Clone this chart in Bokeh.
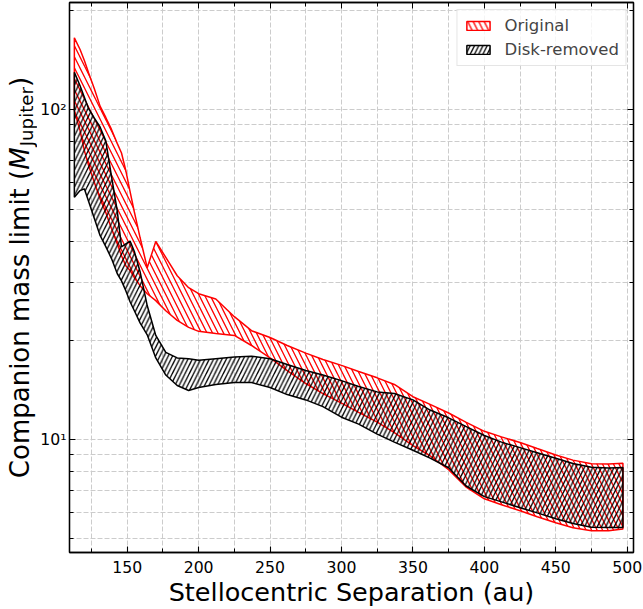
from bokeh.plotting import figure
from bokeh.layouts import row
from bokeh.models import (LogAxis, LinearAxis, FixedTicker, Range1d, Label, Legend, LegendItem,
                          CustomJSTickFormatter)
from bokeh.embed import file_html
from bokeh.resources import INLINE

# Stellocentric separation (au)
sep = [113, 117, 120, 123, 127, 131, 135, 139, 143, 146,
       149, 152, 155, 159, 164, 170, 177, 185, 193, 200,
       212, 225, 237, 250, 262, 275, 287, 300, 312, 325,
       337, 350, 362, 375, 387, 400, 412, 425, 437, 450,
       462, 475, 487, 497]

# Original: upper / lower companion mass limit (M_Jupiter)
orig_upper = [165.3, 152.3, 141.1, 129.3, 115.8, 102.6, 94.8, 87.2, 79.1, 74.0,
              65.5, 56.5, 49.0, 41.0, 33.2, 39.9, 35.7, 31.4, 28.9, 27.7,
              26.7, 23.6, 21.4, 20.4, 19.3, 18.3, 17.5, 16.8, 16.1, 15.4,
              14.7, 13.5, 12.8, 12.05, 11.3, 10.6, 10.2, 9.8, 9.4, 8.99,
              8.67, 8.46, 8.44, 8.48]
orig_lower = [99.5, 86.5, 75.2, 67.8, 60.2, 53.8, 48.8, 43.7, 39.3, 36.1,
              33.7, 32.6, 31.0, 29.3, 27.7, 26.4, 24.6, 23.0, 21.9, 21.3,
              21.0, 20.7, 19.3, 17.7, 16.2, 14.8, 13.8, 12.9, 12.1, 11.3,
              10.5, 9.6, 8.94, 8.11, 7.20, 6.62, 6.35, 6.09, 5.84, 5.60,
              5.41, 5.30, 5.30, 5.36]

# Disk-removed: upper / lower
disk_upper = [130.0, 118.3, 109.2, 100.8, 94.4, 88.7, 80.5, 62.8, 49.5, 38.4,
              39.2, 40.0, 37.2, 32.3, 25.5, 20.7, 18.4, 17.7, 17.6, 17.4,
              17.6, 17.8, 17.9, 17.6, 16.9, 16.2, 15.7, 15.1, 14.5, 13.96,
              13.8, 13.2, 12.3, 11.65, 10.97, 10.3, 9.83, 9.46, 9.13, 8.78,
              8.47, 8.25, 8.21, 8.24]
disk_lower = [54.3, 56.9, 57.6, 52.7, 46.8, 41.6, 38.5, 35.4, 31.9, 30.3,
              28.3, 26.2, 24.6, 22.6, 20.8, 17.7, 15.7, 14.6, 14.1, 14.4,
              14.7, 14.9, 14.9, 14.4, 13.7, 13.2, 12.6, 11.7, 11.15, 10.4,
              9.83, 9.29, 8.79, 8.22, 7.25, 6.72, 6.48, 6.22, 6.00, 5.76,
              5.57, 5.43, 5.42, 5.42]

x_major = [150, 200, 250, 300, 350, 400, 450, 500]
x_minor = [125, 175, 225, 275, 325, 375, 425, 475]
y_major = [10, 100]
y_minor = [5, 6, 7, 8, 9, 20, 30, 40, 50, 60, 70, 80, 90, 200]
y_major_labels = {10: "10¹", 100: "10²"}

FONT = "DejaVu Sans"
X0, X1 = 109.6, 504.4
Y0, Y1 = 4.55, 211.5
H = 609
LW = 37  # width of the strip holding the y-axis title
FRAME_TOP, FRAME_BOTTOM = 2, 552

p = figure(width=643 - LW, height=H,
           x_range=Range1d(X0, X1), y_range=Range1d(Y0, Y1),
           y_axis_type="log", output_backend="svg", toolbar_location=None,
           min_border_left=30, min_border_right=10, min_border_top=FRAME_TOP,
           min_border_bottom=H - FRAME_BOTTOM)
p.background_fill_color = "white"
p.border_fill_color = "white"
p.outline_line_color = "black"
p.outline_line_width = 1.3

# bands
orig = p.patch(sep + sep[::-1], orig_upper + orig_lower[::-1],
               fill_color="white", fill_alpha=0, line_color="red", line_width=1.5,
               hatch_pattern="\\", hatch_color="red", hatch_scale=11, hatch_weight=1.3,
               hatch_alpha=1.0)
disk = p.patch(sep + sep[::-1], disk_upper + disk_lower[::-1],
               fill_color="white", fill_alpha=0, line_color="black", line_width=1.5,
               hatch_pattern="/", hatch_color="black", hatch_scale=8.5, hatch_weight=1.3,
               hatch_alpha=1.0)

xt = FixedTicker(ticks=x_major, minor_ticks=x_minor)
yt = FixedTicker(ticks=y_major, minor_ticks=y_minor)

for ax in [p.xaxis[0], p.yaxis[0]]:
    ax.major_tick_out = 0
    ax.minor_tick_out = 0
    ax.major_tick_in = 6
    ax.minor_tick_in = 4
    ax.axis_line_width = 1.3
    ax.major_tick_line_width = 1.1
    ax.minor_tick_line_width = 1.0
    ax.major_label_text_font = FONT
    ax.major_label_text_font_size = "15.7px"
    ax.major_label_text_color = "black"
p.xaxis[0].ticker = xt
p.yaxis[0].ticker = yt
p.xaxis[0].major_label_standoff = 8
p.yaxis[0].major_label_standoff = 3
p.yaxis[0].major_label_overrides = y_major_labels

p.xaxis[0].axis_label = "Stellocentric Separation (au)"
p.xaxis[0].axis_label_text_font = FONT
p.xaxis[0].axis_label_text_font_size = "25.5px"
p.xaxis[0].axis_label_text_font_style = "normal"
p.xaxis[0].axis_label_text_color = "black"
p.xaxis[0].axis_label_standoff = 1

blank = CustomJSTickFormatter(code="return ''")
top = LinearAxis(ticker=xt, formatter=blank, major_tick_out=0, minor_tick_out=0,
                 major_tick_in=6, minor_tick_in=4, major_label_text_font_size="1px",
                 major_label_standoff=0, axis_line_width=1.3)
right = LogAxis(ticker=yt, formatter=blank, major_tick_out=0, minor_tick_out=0,
                major_tick_in=6, minor_tick_in=4, major_label_text_font_size="1px",
                major_label_standoff=0, axis_line_width=1.3)
p.add_layout(top, "above")
p.add_layout(right, "right")

p.xgrid.ticker = xt
p.ygrid.ticker = yt
for g in [p.xgrid[0], p.ygrid[0]]:
    g.grid_line_color = "#cccccc"
    g.grid_line_dash = "5 2"
    g.grid_line_width = 1
    g.minor_grid_line_color = "#cccccc"
    g.minor_grid_line_dash = "5 2"
    g.minor_grid_line_width = 1

# legend
legend = Legend(items=[LegendItem(label="Original", renderers=[orig]),
                       LegendItem(label="Disk-removed", renderers=[disk])],
                location="top_right", label_text_font=FONT, label_text_font_size="16.5px",
                glyph_width=29, glyph_height=11, label_standoff=12, padding=6, spacing=5,
                margin=7, border_line_color="#cccccc", border_line_width=1,
                background_fill_alpha=0.8)
p.add_layout(legend)

# strip holding the y-axis title; its frame is aligned with the main frame,
# so its y data equals (page height - page y)
lab = figure(width=LW, height=H, x_range=Range1d(0, LW),
             y_range=Range1d(H - FRAME_BOTTOM, H - FRAME_TOP),
             output_backend="svg", toolbar_location=None,
             x_axis_location=None, y_axis_location=None,
             min_border_left=0, min_border_right=0, min_border_top=FRAME_TOP,
             min_border_bottom=H - FRAME_BOTTOM)
lab.outline_line_color = None
lab.xgrid.visible = False
lab.ygrid.visible = False
lab.background_fill_color = "white"
lab.border_fill_color = "white"

S = 26.0
SUB = 0.7 * S
w1 = 11.863 * S
w2 = 0.863 * S + 1
w3 = 3.26 * SUB
w4 = 0.39 * S
total = w1 + w2 + w3 + w4
cx = 19.0                      # centre of the main text line
sub_dx = 0.346 * S - 0.346 * SUB + 4
yc = H - (FRAME_TOP + FRAME_BOTTOM) / 2
start = yc - total / 2
pieces = [("Companion mass limit (", "normal", S, 0, start),
          ("M", "italic", S, 0, start + w1),
          ("Jupiter", "normal", SUB, sub_dx, start + w1 + w2),
          (")", "normal", S, 0, start + w1 + w2 + w3)]
for txt, style, size, dx, yy in pieces:
    lab.add_layout(Label(x=cx + dx, y=yy, text=txt, angle=90, angle_units="deg",
                         text_font=FONT, text_font_style=style, text_font_size=f"{size}px",
                         text_align="left", text_baseline="middle", text_color="black"))

layout = row(lab, p, spacing=0)
open("out.html", "w").write(file_html(layout, INLINE))
